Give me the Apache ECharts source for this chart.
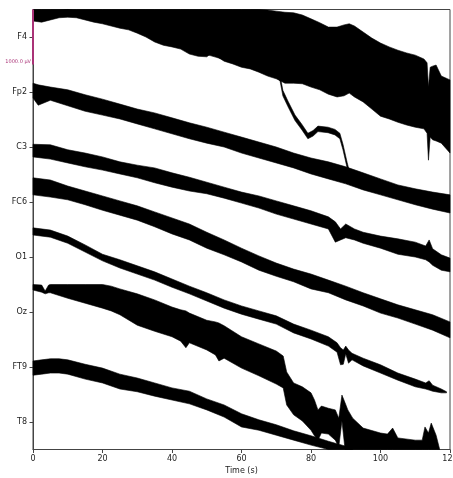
<!DOCTYPE html>
<html>
<head>
<meta charset="utf-8">
<script src="https://cdn.jsdelivr.net/npm/echarts@6/dist/echarts.min.js"></script>
<style>
  html, body { margin: 0; padding: 0; background: #fff; }
  #chart { width: 453px; height: 478px; }
</style>
</head>
<body>
<div id="chart"></div>
<script>
// EEG raw browser: eight channels stacked top to bottom, 120 s window.
const channels = ['F4', 'Fp2', 'C3', 'FC6', 'O1', 'Oz', 'FT9', 'T8'];
const channelSpacingUV = 1000;
const scaleBarUV = 1000;
const timeTicks = [0, 20, 40, 60, 80, 100, 120];

// Each trace is dense, so it is drawn as its envelope:
// upper and lower extent in µV relative to the channel baseline.
const f4Time = [0,2.5,5,7.5,10,12.5,15,17.5,20,22.5,25,27.5,30,32.5,35,37.5,40,42.5,45,47.5,50,51.5,53,55,57.5,60,62.5,65,67.5,70,72.5,75,77.5,80,82.5,85,87.5,89.5,91,92.5,95,97.5,100,102.5,105,107.5,110,112.5,113.4,113.8,114.3,115,116,117.5,120];
const f4High = [1560,1540,1580,1620,1630,1620,1580,1540,1510,1470,1430,1400,1340,1270,1180,1120,1090,1050,960,920,910,980,910,830,780,720,690,630,490,470,450,440,400,330,260,180,180,220,240,200,90,-20,-110,-180,-240,-290,-330,-400,-470,-910,-550,-530,-510,-710,-780];
const f4Low = [290,270,310,350,360,350,310,270,240,200,160,130,70,0,-90,-150,-180,-220,-310,-350,-360,-290,-360,-440,-490,-550,-580,-640,-710,-760,-840,-840,-850,-910,-960,-1040,-1090,-1070,-1020,-1090,-1180,-1310,-1440,-1490,-1550,-1600,-1640,-1670,-1750,-2240,-1820,-1870,-1890,-1930,-2110];

const fp2Time = [0,10,20,30,40,50,60,65,70,71.1,71.9,73.4,75.4,77.4,79.1,80.6,82,84.9,86.9,88.3,89.2,90.4,91.2];
const fp2High = [1430,1500,1380,1210,960,780,600,500,380,300,30,-170,-420,-590,-750,-700,-620,-640,-680,-750,-950,-1280,-1480];
const fp2Low = [1330,1400,1280,1110,860,680,500,400,280,200,-70,-270,-520,-690,-850,-800,-720,-740,-780,-850,-1050,-1380,-1580];

const c3Time = [0,1.5,5,10,15,20,25,30,35,40,45,50,55,60,65,70,75,80,85,90,95,100,105,110,115,120];
const c3High = [1160,1130,1090,1040,950,870,780,690,620,530,440,360,270,180,90,0,-110,-200,-270,-360,-470,-580,-690,-760,-820,-870];
const c3Low = [890,760,850,750,650,580,510,420,330,240,150,70,0,-110,-200,-290,-380,-490,-580,-670,-780,-870,-960,-1050,-1130,-1200];

const fc6Time = [0,5,10,15,20,25,30,35,40,45,50,55,60,65,70,75,80,85,87,88.5,90,92.5,95,100,105,110,113,114,115,117.5,120];
const fc6High = [1050,1040,950,890,820,730,670,620,530,450,360,270,180,110,20,-70,-160,-270,-360,-490,-400,-490,-550,-620,-670,-730,-800,-690,-850,-960,-1020];
const fc6Low = [820,780,710,640,580,510,440,350,270,200,150,70,-20,-110,-220,-310,-400,-490,-730,-690,-650,-690,-750,-840,-950,-1000,-1050,-1090,-1150,-1240,-1270];

const o1Time = [0,5,10,15,20,25,30,35,40,45,50,55,60,65,70,75,80,85,90,95,100,105,110,115,120];
const o1High = [1440,1400,1290,1200,1110,1020,930,820,710,600,450,310,160,20,-110,-220,-310,-420,-530,-650,-760,-870,-960,-1050,-1180];
const o1Low = [1130,1090,1040,950,850,760,670,550,420,310,160,40,-90,-240,-350,-450,-580,-650,-780,-890,-1020,-1110,-1220,-1330,-1470];

const ozTime = [0,5,10,15,20,25,30,35,40,45,50,55,60,65,70,75,80,85,87.5,88.5,89.3,90,90.8,91.8,95,100,105,110,113,114,115,117.5,119];
const ozHigh = [1530,1490,1380,1220,1050,950,840,730,600,470,350,220,110,20,-70,-220,-330,-450,-560,-650,-690,-620,-690,-750,-840,-960,-1110,-1220,-1290,-1250,-1330,-1400,-1450];
const ozLow = [1400,1360,1250,1090,930,800,690,580,450,330,200,70,-40,-130,-220,-380,-490,-620,-730,-960,-950,-760,-930,-870,-980,-1110,-1240,-1360,-1400,-1420,-1440,-1470,-1470];

const ft9Time = [0,2.5,3.5,4.5,5,10,15,20,22.5,25,30,35,40,42.5,44,45,50,52.5,53.5,55,60,65,70,72,73,75,77.5,80,81,82,83,85,87,88,88.9,89.8,90.6,92,95,100,102,103.5,105,110,112,112.8,113.8,114.6,116,117];
const ft9High = [1500,1490,1380,1490,1500,1500,1500,1500,1470,1420,1330,1220,1090,1040,1020,980,850,820,800,750,550,420,290,200,-90,-290,-360,-470,-600,-780,-710,-750,-780,-930,-510,-650,-780,-930,-1110,-1200,-1220,-1110,-1290,-1330,-1330,-1090,-1200,-1020,-1240,-1490];
const ft9Low = [1400,1360,1330,1350,1350,1250,1160,1070,1020,950,760,650,550,470,350,440,310,220,110,160,-20,-160,-310,-380,-690,-870,-980,-1150,-1250,-1330,-1200,-1220,-1330,-1450,-980,-1510,-1730,-1730,-1740,-1750,-1750,-1740,-1760,-1760,-1750,-1740,-1740,-1730,-1730,-1720];

const t8Time = [0,2.5,5,7.5,10,15,20,25,30,35,40,45,50,55,60,65,70,75,80,85,90,92];
const t8High = [1110,1130,1150,1150,1130,1050,980,870,800,710,620,560,420,310,150,40,-50,-160,-250,-350,-440,-480];
const t8Low = [850,870,890,890,870,780,710,600,550,470,400,330,220,90,-90,-150,-240,-330,-420,-510,-600,-640];

const envelopes = {
  F4:  { t: f4Time,  hi: f4High,  lo: f4Low },
  Fp2: { t: fp2Time, hi: fp2High, lo: fp2Low },
  C3:  { t: c3Time,  hi: c3High,  lo: c3Low },
  FC6: { t: fc6Time, hi: fc6High, lo: fc6Low },
  O1:  { t: o1Time,  hi: o1High,  lo: o1Low },
  Oz:  { t: ozTime,  hi: ozHigh,  lo: ozLow },
  FT9: { t: ft9Time, hi: ft9High, lo: ft9Low },
  T8:  { t: t8Time,  hi: t8High,  lo: t8Low }
};

const FONT = '"DejaVu Sans", "Liberation Sans", sans-serif';
const nCh = channels.length;
const baseline = i => (nCh - 1 - i) * channelSpacingUV;
const baselines = channels.map((_, i) => baseline(i));

function traceSeries(name, idx) {
  const env = envelopes[name];
  const b = baseline(idx);
  return {
    type: 'custom',
    name: name,
    coordinateSystem: 'cartesian2d',
    silent: true,
    data: [[0, b]],
    encode: { x: 0, y: 1 },
    renderItem: function (params, api) {
      const cs = params.coordSys;
      const clampY = y => Math.min(cs.y + cs.height, Math.max(cs.y, y));
      const pts = [];
      for (let k = 0; k < env.t.length; k++) {
        const p = api.coord([env.t[k], b + env.hi[k]]);
        pts.push([p[0], clampY(p[1])]);
      }
      for (let k = env.t.length - 1; k >= 0; k--) {
        const p = api.coord([env.t[k], b + env.lo[k]]);
        pts.push([p[0], clampY(p[1])]);
      }
      return {
        type: 'polygon',
        shape: { points: pts },
        style: { fill: '#000', stroke: '#000', lineWidth: 0.6 }
      };
    }
  };
}

// Scale bar on the first channel
const scaleBarSeries = {
  type: 'custom',
  name: 'scalebar',
  coordinateSystem: 'cartesian2d',
  silent: true,
  z: 10,
  data: [[0, baseline(0)]],
  encode: { x: 0, y: 1 },
  renderItem: function (params, api) {
    const b = baseline(0);
    const top = api.coord([0, b + scaleBarUV / 2]);
    const bot = api.coord([0, b - scaleBarUV / 2]);
    return {
      type: 'group',
      children: [
        {
          type: 'line',
          shape: { x1: top[0], y1: top[1], x2: bot[0], y2: bot[1] },
          style: { stroke: '#AA3377', lineWidth: 2 }
        },
        {
          type: 'text',
          x: bot[0] - 2,
          y: bot[1] - 3,
          style: {
            text: scaleBarUV.toFixed(1) + ' µV',
            fill: '#AA3377',
            fontSize: 5,
            fontFamily: FONT,
            align: 'right',
            verticalAlign: 'middle'
          }
        }
      ]
    };
  }
};

const chart = echarts.init(document.getElementById('chart'), null, { renderer: 'canvas' });
chart.setOption({
  animation: false,
  backgroundColor: '#fff',
  grid: {
    left: 33, top: 9.5, width: 417, height: 440,
    containLabel: false,
    outerBoundsMode: 'none',
    show: true, borderColor: '#444', borderWidth: 1, backgroundColor: 'transparent'
  },
  xAxis: {
    type: 'value',
    min: timeTicks[0],
    max: timeTicks[timeTicks.length - 1],
    interval: 20,
    splitLine: { show: false },
    axisLine: { show: true, onZero: false, lineStyle: { color: '#444', width: 1 } },
    axisTick: { show: true, length: 3.5, lineStyle: { color: '#444' } },
    axisLabel: { fontSize: 8, color: '#222', fontFamily: FONT, margin: 5 },
    name: 'Time (s)',
    nameLocation: 'middle',
    nameGap: 16,
    nameTextStyle: { fontSize: 8, color: '#222', fontFamily: FONT }
  },
  yAxis: {
    type: 'value',
    min: -channelSpacingUV / 2,
    max: (nCh - 0.5) * channelSpacingUV,
    splitLine: { show: false },
    axisLine: { show: true, onZero: false, lineStyle: { color: '#444', width: 1 } },
    axisTick: { show: true, length: 3.5, lineStyle: { color: '#444' }, customValues: baselines },
    axisLabel: {
      fontSize: 8, color: '#222', fontFamily: FONT, margin: 6,
      customValues: baselines,
      formatter: function (v) {
        const i = nCh - 1 - Math.round(v / channelSpacingUV);
        return channels[i] !== undefined ? channels[i] : '';
      }
    }
  },
  series: channels.map((name, i) => traceSeries(name, i)).concat([scaleBarSeries])
});
</script>
</body>
</html>
